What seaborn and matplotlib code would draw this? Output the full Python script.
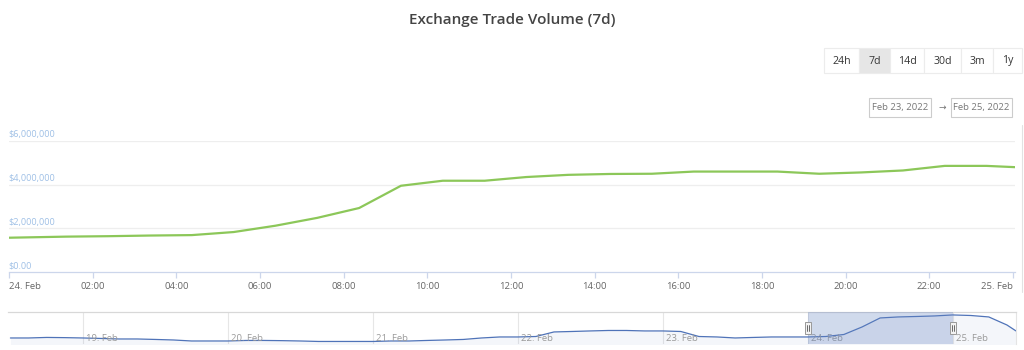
import matplotlib
matplotlib.use("Agg")
import matplotlib.pyplot as plt
import matplotlib.transforms as mtransforms
from matplotlib.patches import Rectangle
from matplotlib.lines import Line2D
import seaborn as sns

# ---- main series: 24 Feb, hours after midnight -> traded volume (USD)
hours = [0, 1.37, 2.37, 3.37, 4.37, 5.37, 6.37, 7.37, 8.37, 9.37, 10.37, 11.37,
         12.37, 13.37, 14.37, 15.37, 16.37, 17.37, 18.37, 19.37, 20.37, 21.37,
         22.37, 23.37, 24.07]
volume = [1.57e6, 1.62e6, 1.64e6, 1.67e6, 1.69e6, 1.83e6, 2.12e6, 2.48e6, 2.93e6,
          3.95e6, 4.18e6, 4.18e6, 4.35e6, 4.45e6, 4.49e6, 4.50e6, 4.60e6, 4.60e6,
          4.60e6, 4.50e6, 4.56e6, 4.65e6, 4.86e6, 4.86e6, 4.80e6]

x_ticks = [0, 2, 4, 6, 8, 10, 12, 14, 16, 18, 20, 22, 24]
x_tick_labels = ["24. Feb", "02:00", "04:00", "06:00", "08:00", "10:00", "12:00",
                 "14:00", "16:00", "18:00", "20:00", "22:00", "25. Feb"]
y_ticks = [0, 2e6, 4e6, 6e6]
y_tick_labels = ["$0.00", "$2,000,000", "$4,000,000", "$6,000,000"]

# ---- navigator series: hours after 18 Feb 00:00 -> volume (USD)
nav_hours = [12, 15, 18, 21, 24, 27, 30, 33, 36, 39, 42, 45, 48, 51, 54, 57, 60,
             63, 66, 69, 72, 75, 78, 81, 84, 87, 90, 93, 96, 99, 102, 105, 108,
             111, 114, 117, 120, 123, 126, 129, 132, 135, 138, 141, 144, 147, 150,
             153, 156, 159, 162, 165, 168, 171, 174, 177, 178.5]
nav_volume = [1.42e6, 1.42e6, 1.50e6, 1.47e6, 1.42e6, 1.35e6, 1.27e6, 1.27e6,
              1.20e6, 1.12e6, 0.97e6, 0.97e6, 0.97e6, 1.05e6, 1.05e6, 1.02e6,
              0.97e6, 0.90e6, 0.90e6, 0.90e6, 0.90e6, 0.97e6, 0.97e6, 1.05e6,
              1.12e6, 1.20e6, 1.42e6, 1.57e6, 1.57e6, 1.64e6, 2.32e6, 2.39e6,
              2.47e6, 2.54e6, 2.54e6, 2.47e6, 2.47e6, 2.39e6, 1.64e6, 1.57e6,
              1.42e6, 1.50e6, 1.57e6, 1.57e6, 1.57e6, 1.64e6, 1.94e6, 3.06e6,
              4.41e6, 4.56e6, 4.63e6, 4.71e6, 4.86e6, 4.78e6, 4.56e6, 3.36e6,
              2.47e6]
nav_day_ticks = [24, 48, 72, 96, 120, 144, 168]
nav_day_labels = ["19. Feb", "20. Feb", "21. Feb", "22. Feb", "23. Feb",
                  "24. Feb", "25. Feb"]
nav_selection = (144, 168)

range_buttons = ["24h", "7d", "14d", "30d", "3m", "1y"]
selected_button = "7d"
date_from, date_to = "Feb 23, 2022", "Feb 25, 2022"
title = "Exchange Trade Volume (7d)"

sns.set_theme(style="white")
plt.rcParams["font.family"] = ["Open Sans", "DejaVu Sans"]

W, H = 1024, 350
fig = plt.figure(figsize=(W / 100, H / 100), dpi=100)
fig.patch.set_facecolor("white")


def fx(x):
    return x / W


def fy(y):
    return 1 - y / H


# ---------------- main plot ----------------
ax = fig.add_axes([fx(9), fy(272), fx(1015) - fx(9), fy(141) - fy(272)])
sns.lineplot(x=hours, y=volume, ax=ax, color="#8cc759", linewidth=1.6)
ax.set_xlim(0, 24.05)
ax.set_ylim(0, 6e6)
for s in ["top", "left", "right"]:
    ax.spines[s].set_visible(False)
ax.spines["bottom"].set_color("#ccd6eb")
ax.spines["bottom"].set_linewidth(0.9)
ax.set_yticks([])
for v in y_ticks[1:]:
    ax.axhline(v, color="#eeeeee", lw=0.9, zorder=0)
ylab_tr = mtransforms.offset_copy(ax.get_yaxis_transform(), fig=fig, x=-1, y=1.5,
                                  units="dots")
for v, lab in zip(y_ticks, y_tick_labels):
    ax.text(0, v, lab, transform=ylab_tr, ha="left", va="bottom",
            fontsize=6.6, color="#9fc0e6")

ax.set_xticks(x_ticks)
ax.set_xticklabels(x_tick_labels)
ax.tick_params(axis="x", length=4, width=0.9, color="#ccd6eb", pad=3,
               labelsize=6.8, labelcolor="#666666", bottom=True)
labels = ax.get_xticklabels()
labels[0].set_ha("left")
labels[-1].set_ha("right")
ax.set_xlabel("")
ax.set_ylabel("")

# ---------------- navigator ----------------
nav = fig.add_axes([fx(8), fy(344), fx(1016) - fx(8), fy(312) - fy(344)])
sns.lineplot(x=nav_hours, y=nav_volume, ax=nav, color="#4f73b8", linewidth=0.9)
nav.fill_between(nav_hours, nav_volume, 0, color="#335cad", alpha=0.05, lw=0)
nav.set_xlim(11.6, 178.5)
nav.set_ylim(0.52e6, 5.3e6)
nav.set_xticks([])
nav.set_yticks([])
for s in ["left", "bottom"]:
    nav.spines[s].set_visible(False)
nav.spines["top"].set_color("#d8d8d8")
nav.spines["top"].set_linewidth(0.9)
nav.spines["right"].set_color("#e4e4e4")
nav.spines["right"].set_linewidth(0.8)
nav.set_xlabel("")
nav.set_ylabel("")
nav_lab_tr = mtransforms.offset_copy(nav.get_xaxis_transform(), fig=fig, x=3,
                                     y=1, units="dots")
for t, lab in zip(nav_day_ticks, nav_day_labels):
    nav.axvline(t, color="#e6e6e6", lw=0.8, zorder=0)
    nav.text(t, 0, lab, transform=nav_lab_tr, ha="left", va="bottom",
             fontsize=6.8, color="#9a9a9a")
nav.axvspan(*nav_selection, color="#6685c2", alpha=0.3, lw=0, zorder=3)

# selection handles
for t in nav_selection:
    hx = nav.transData.transform((t, 0))[0]
    hxf = hx / W
    fig.patches.append(Rectangle((hxf - fx(3), fy(334)), fx(6), fy(322) - fy(334),
                                 transform=fig.transFigure, facecolor="#f2f2f2",
                                 edgecolor="#999999", lw=0.7, zorder=5))
    for dx in (-1, 1):
        fig.lines.append(Line2D([hxf + fx(dx), hxf + fx(dx)], [fy(331), fy(325)],
                                transform=fig.transFigure, color="#333333",
                                lw=0.5, zorder=6))

# ---------------- title ----------------
fig.text(fx(512), fy(20), title, ha="center", va="center", fontsize=11,
         color="#444444", fontweight="semibold")

# ---------------- range selector ----------------
edges = [824, 859, 890, 924, 961, 993, 1022]
for i, lab in enumerate(range_buttons):
    x0, x1 = edges[i], edges[i + 1]
    sel = lab == selected_button
    fig.patches.append(Rectangle((fx(x0), fy(73)), fx(x1 - x0), fy(48) - fy(73),
                                 transform=fig.transFigure,
                                 facecolor="#e6e6e6" if sel else "white",
                                 edgecolor="#ececec", lw=0.8))
    fig.text(fx((x0 + x1) / 2), fy(61), lab, ha="center", va="center",
             fontsize=7.6, color="#333333")

# date range inputs
for (x0, x1), txt in [((869, 931), date_from), ((951, 1012), date_to)]:
    fig.patches.append(Rectangle((fx(x0), fy(117)), fx(x1 - x0), fy(98) - fy(117),
                                 transform=fig.transFigure, facecolor="white",
                                 edgecolor="#cccccc", lw=0.8))
    fig.text(fx((x0 + x1) / 2), fy(107.5), txt, ha="center", va="center",
             fontsize=6.8, color="#777777")
fig.text(fx(942), fy(107.5), "\u2192", ha="center", va="center", fontsize=6.5,
         color="#777777", family=["DejaVu Sans"])

# right border of the chart container
fig.lines.append(Line2D([fx(1022), fx(1022)], [fy(125), fy(292)],
                        transform=fig.transFigure, color="#e2e2e2", lw=0.8))

fig.savefig("out.png", dpi=100, facecolor="white")
